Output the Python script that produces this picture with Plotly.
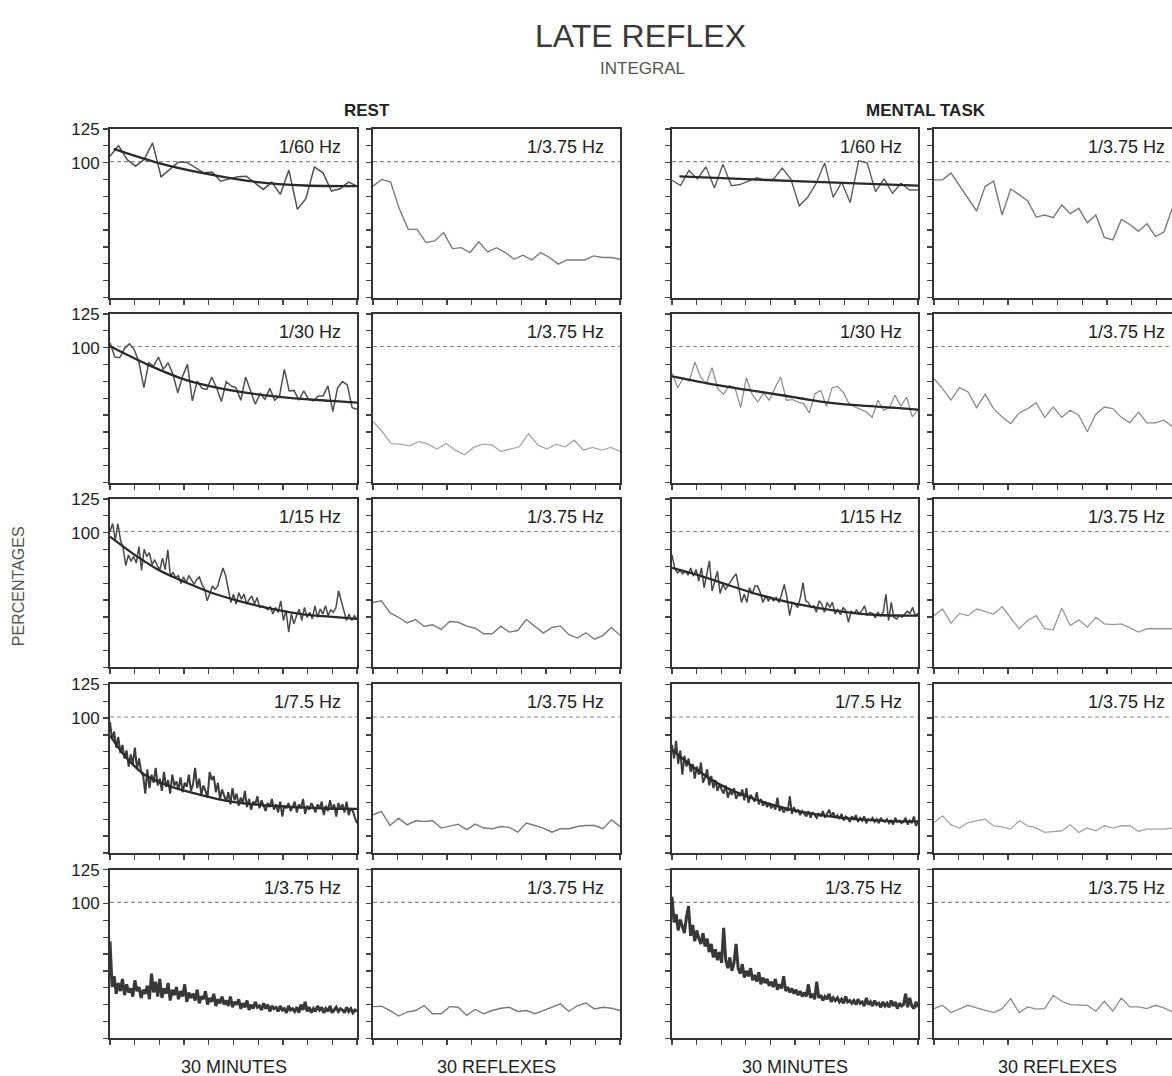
import plotly.graph_objects as go

W, H = 1172, 1076

# ---------------- data (percentages) ----------------
# Row 1 : 1/60 Hz
rest_60 = [104.8, 112.7, 102.3, 97.4, 102.3, 114.7, 89.5, 95, 100.4, 100.4, 96.2, 92.5, 93, 86.3, 88,
           89.5, 90, 85, 80.2, 85.6, 76.5, 94.5, 65.4, 73.3, 96.9, 92.5, 79, 80.7, 85.6, 82.6]
rest_60_fit_t = [0.45, 5.8, 12.1, 17.9, 23.7, 30]
rest_60_fit_v = [110.2, 99.9, 91.3, 85.6, 83.1, 82.6]
rest_60_refl = [82.6, 87.6, 85.6, 65.4, 50.6, 50.6, 40.8, 42, 48.2, 36.3, 37, 33.4, 41.3, 33.9, 37,
                33.4, 28.4, 31.4, 27.9, 33.4, 29.7, 24.8, 27.9, 27.9, 27.9, 30.9, 29.7, 29.7, 28.4]
task_60 = [87, 83, 94.3, 88, 97, 81.3, 98.9, 83, 83.8, 86.3, 88.8, 86.8, 88, 96, 88, 68, 74.3, 84.8,
           99.9, 74.3, 85.6, 70.5, 101.4, 99.9, 78.5, 88, 77.3, 84.8, 79.8, 79.8]
task_60_fit_t = [0.9, 15, 30]
task_60_fit_v = [89.8, 86.4, 83]
task_60_refl = [87.3, 87.3, 92.3, 83, 73, 64.2, 82.3, 86.3, 61.2, 80.5, 76.3, 71.7, 59.7, 61.2, 59.2,
                68.7, 62.2, 66.2, 55.4, 61.2, 44.6, 42.8, 57.9, 54.2, 49.1, 54.7, 45.4, 48.6, 66.7]

# Row 2 : 1/30 Hz
rest_30 = [103.6, 93, 92.5, 99.4, 102.8, 98.6, 88.8, 70.3, 88.8, 86.3, 93, 83.9, 88.8, 80.2, 66.5, 78.9,
           87.6, 60.5, 75.2, 69.8, 69.1, 78.2, 70.3, 60, 74.8, 71.6, 70.3, 61, 78.2, 67.9, 58, 65.9,
           61.7, 69.8, 61, 64.2, 83.9, 67.9, 68.3, 61, 67.9, 61.7, 60.5, 64.2, 64.2, 71.6, 52.6, 70.3,
           74.8, 72.3, 55.5, 54.3]
rest_30_fit_t = [0, 4.5, 9, 13.4, 17.9, 22.4, 26.9, 30]
rest_30_fit_v = [101, 87.6, 76.5, 69.8, 65.4, 62.4, 60.5, 59.2]
rest_30_refl = [45.2, 37.8, 28.9, 28.4, 27.2, 30.4, 28.4, 24.8, 28.9, 24, 20.6, 26, 28.4, 27.9, 23, 24.8,
                26.5, 36.3, 27.9, 24.8, 28.4, 26.5, 31.4, 24, 26, 24, 26, 23]
task_30 = [81.2, 70.3, 77.7, 75.2, 89.3, 78.2, 73.3, 85.1, 69.6, 65.4, 72, 70.3, 55.5, 77.7, 65.4, 59.7,
           66.4, 61, 70.3, 78.2, 61, 61.5, 59.7, 58.5, 51.6, 65.9, 68.3, 56.5, 70.3, 71.3, 66.4, 58,
           56, 54.1, 52.3, 48.2, 61, 53.6, 55.5, 64.7, 56.5, 63.4, 48.6, 54.1]
task_30_fit_t = [0, 4.5, 9, 13.4, 17.9, 22.4, 26.9, 30]
task_30_fit_v = [78.7, 73.3, 68.8, 64.7, 60.2, 57.3, 55.5, 54.1]
task_30_refl = [77, 69.6, 61, 70.3, 67.1, 55.5, 65.4, 54.8, 48.6, 43.7, 51.6, 54.8, 59, 48.3, 56, 48.3,
                53.6, 49.9, 37.6, 50.6, 56, 54.8, 48.3, 44.2, 52.3, 44.2, 44.2, 46.2, 41.3]

# Row 3 : 1/15 Hz
rest_15 = [100.6, 106.7, 94.5, 106.7, 94.5, 88.4, 75.5, 83.5, 78.7, 82.3, 77.4, 89.6, 72, 87.7, 82.3,
           85.2, 76.2, 79.9, 75.5, 72.6, 81.1, 72.6, 87.2, 67.2, 70.6, 66.5, 68.2, 62.3, 67.2, 62.8,
           68.2, 65.2, 61.6, 65.2, 67.2, 61.6, 57.9, 49.4, 55.5, 60.4, 57.9, 60.4, 67.2, 73.8, 68.2,
           59.1, 48.2, 54.3, 47, 55.5, 50.6, 54.3, 47, 50.6, 53, 47, 51.8, 44.5, 45.7, 44.5, 42.8, 45.2,
           39.6, 44.5, 40.9, 49.4, 34.8, 42.1, 26.2, 39.6, 32.3, 38.4, 43.3, 34.8, 44.5, 37.2, 40.9, 36,
           45.7, 37.2, 43.3, 39.6, 45.7, 38.4, 42.8, 40.9, 44.5, 56.7, 48.2, 42.1, 34.8, 39.6, 34.8,
           38.4, 36]
rest_15_fit_t = [0, 3, 6.2, 9.3, 12.5, 15.6, 18.8, 21.9, 25, 28.2, 30]
rest_15_fit_v = [97, 83.5, 71.3, 62.8, 55, 49.4, 44.5, 40.9, 38.4, 37, 36]
rest_15_refl = [48.2, 49.4, 40.4, 37.2, 33, 35.5, 30.6, 31.6, 28.2, 34, 33.5, 30.6, 29.1, 25, 25, 30.6,
                26.2, 27.4, 35.5, 30.6, 25.5, 29.6, 30.8, 24.3, 21.8, 25.7, 20.9, 23.8, 29.6, 23.8]
task_15 = [83.5, 73.8, 70.1, 71.8, 69.4, 71.3, 68.4, 73.8, 67.7, 72.6, 64, 73.8, 59.1, 70.1, 79.1, 56.7,
           64, 71.3, 54.8, 61.6, 57.9, 61.1, 64.5, 67, 69.4, 59.1, 48.2, 54.3, 48.2, 59.1, 54.3, 60.4,
           60.4, 55.5, 48.2, 53, 49.4, 51.8, 49.4, 51.8, 48.2, 54.3, 61.6, 51.8, 38.4, 48.2, 47, 44.5,
           51.8, 62.8, 49.4, 48.2, 44.5, 45.7, 40.9, 49.4, 47, 40.9, 48.2, 44.5, 48.2, 39.6, 43.3, 39.1,
           44.5, 42.1, 33.5, 41.6, 40.1, 42.6, 39.6, 42.1, 45.7, 38.4, 40.9, 40.1, 36.7, 40.9, 38.4,
           40.9, 54.3, 34.8, 48.2, 37.2, 36, 38.4, 37.2, 39.6, 41.6, 40.1, 44.5, 38.4, 40.1]
task_15_fit_t = [0, 3.6, 7.2, 10.7, 14.3, 17.9, 21.5, 25, 30]
task_15_fit_v = [73.8, 67.7, 60.4, 53.8, 48.2, 44, 40.9, 38.9, 38.4]
task_15_refl = [38.4, 43.3, 32.8, 40.1, 38.4, 43.3, 41.6, 39.6, 45, 36.7, 28.7, 34.8, 38.4, 28.7, 27.9,
                44, 31.1, 35.3, 29.9, 37.2, 32.3, 31.8, 32.3, 29.4, 26.2, 28.7, 28.7, 28.7, 28.7]

# Row 4 : 1/7.5 Hz
rest_75 = [97, 84, 90, 78, 86, 74, 80, 70, 76, 64, 73, 66, 78, 62, 70, 60,
           57, 44, 62, 48, 58, 52, 63, 50, 55, 46, 60, 49, 54, 44, 58, 50,
           53, 47, 56, 45, 52, 49, 58, 46, 51, 63, 48, 55, 43, 50, 46, 41,
           60, 54, 57, 45, 52, 40, 47, 42, 38, 45, 36, 48, 39, 44, 35, 41,
           37, 46, 34, 40, 32, 38, 36, 42, 33, 39, 35, 31, 37, 34, 40, 32,
           36, 30, 38, 27, 35, 33, 37, 31, 34, 38, 30, 36, 33, 40, 29, 35,
           32, 37, 34, 30, 36, 33, 38, 28, 35, 31, 39, 32, 36, 27, 37, 33,
           36, 30, 38, 28, 33, 31, 26, 22]
rest_75_fit_t = [0, 1.9, 4.3, 7.5, 11.1, 14.7, 18.3, 21.9, 25.5, 30]
rest_75_fit_v = [87, 71.1, 57.6, 49, 42.9, 38, 35.5, 34.1, 33.1, 32.6]
rest_75_refl = [28.2, 30.6, 20.3, 25.7, 20.8, 23.8, 23.3, 23.8, 18.4, 19.6, 21.3, 17.2, 21.3, 18.4, 17.9,
                19.6, 18.9, 15.4, 22.1, 20.3, 18.4, 15.4, 17.9, 17.9, 19.6, 20.3, 20.3, 17.9, 24.5, 19.6]
task_75 = [80, 70, 83, 66, 76, 58, 72, 64, 70, 60, 66, 55, 64, 58, 67, 52,
           56, 62, 50, 57, 48, 54, 46, 51, 47, 44, 50, 41, 46, 43, 48, 40,
           44, 42, 47, 39, 48, 37, 43, 40, 38, 45, 36, 40, 35, 38, 34, 37,
           33, 36, 32, 41, 31, 34, 30, 33, 31, 42, 29, 34, 30, 32, 28, 31,
           29, 27, 31, 26, 30, 28, 26, 29, 27, 31, 26, 29, 32, 27, 30, 26,
           28, 25, 29, 24, 27, 26, 23, 27, 25, 28, 23, 26, 24, 27, 22, 25,
           24, 26, 23, 25, 22, 26, 24, 23, 25, 22, 24, 21, 26, 23, 24, 22,
           23, 26, 21, 24, 22, 27, 20, 23]
task_75_fit_t = [0, 2.7, 5.8, 9, 12.1, 15.2, 18.8, 22.4, 26, 30]
task_75_fit_v = [76.6, 63.1, 50.8, 42.2, 36, 31.1, 27.5, 25, 23.8, 23.3]
task_75_refl = [22.5, 27.5, 20.8, 18.4, 22.5, 23.8, 25, 20.1, 19.3, 17.6, 23.8, 20.1, 18.4, 15.2, 15.9,
                16.4, 20.8, 15.2, 18.4, 16.4, 20.1, 18.4, 20.1, 20.1, 15.9, 17.6, 17.6, 17.6, 18.4]

# Row 5 : 1/3.75 Hz
rest_375 = [72, 38, 46, 33, 41, 35, 44, 32, 40, 34, 37, 31, 43, 35, 38, 30,
            36, 33, 39, 29, 48, 34, 42, 31, 44, 30, 37, 33, 41, 28, 36, 32,
            38, 29, 35, 31, 40, 27, 34, 30, 33, 28, 36, 26, 31, 29, 35, 25,
            30, 27, 33, 24, 29, 26, 31, 25, 28, 24, 31, 23, 27, 25, 29, 22,
            26, 23, 28, 21, 25, 22, 27, 23, 24, 21, 26, 22, 25, 20, 24, 22,
            23, 20, 24, 21, 22, 19, 24, 21, 22, 20, 23, 19, 25, 21, 27, 20,
            23, 19, 22, 20, 24, 21, 23, 19, 22, 20, 24, 19, 21, 23, 20, 22,
            21, 19, 23, 20, 22, 19, 21, 20]
rest_375_refl = [23.5, 23.8, 20.6, 16.5, 19.4, 20.6, 24.3, 18.2, 18.2, 23.5, 23, 17, 21.4, 18.2, 20.6,
                 22.3, 23, 19.9, 20.6, 18.2, 20.6, 23, 25.5, 19.9, 24.3, 26.2, 21.8, 23, 22.3, 20.6]
task_375 = [105, 86, 92, 80, 88, 82, 78, 90, 98, 76, 84, 72, 80, 74, 70, 78,
            68, 74, 64, 70, 60, 66, 58, 64, 56, 82, 58, 52, 60, 50, 56, 70,
            52, 48, 55, 45, 50, 46, 52, 43, 47, 42, 49, 40, 45, 41, 44, 39,
            42, 38, 44, 36, 40, 37, 46, 35, 38, 34, 37, 33, 36, 32, 35, 31,
            34, 31, 40, 30, 33, 29, 42, 30, 32, 28, 31, 29, 33, 27, 30, 28,
            30, 27, 29, 26, 31, 27, 28, 26, 28, 25, 29, 26, 27, 24, 30, 25,
            27, 24, 28, 25, 26, 23, 27, 24, 26, 23, 28, 24, 27, 22, 26, 24,
            25, 33, 23, 30, 24, 22, 27, 23]
task_375_refl = [22, 24.5, 19.1, 22, 24.5, 22.5, 20.8, 19.1, 22, 29.4, 19.1, 23.3, 21.6, 22, 31.9,
                 27.5, 25, 24.5, 24.5, 20.1, 27.5, 20.1, 29.9, 23.3, 23.3, 22, 24.5, 22.5, 19.6]

row_labels = ["1/60 Hz", "1/30 Hz", "1/15 Hz", "1/7.5 Hz", "1/3.75 Hz"]
refl_label = "1/3.75 Hz"
y_tickvals = [0, 12.5, 25, 37.5, 50, 62.5, 75, 87.5, 100, 112.5, 125]
y_ticktext = ["", "", "", "", "", "", "", "", "100", "", "125"]

# ---------------- layout geometry (pixels) ----------------
col_px = [(110, 357), (373, 620), (672, 918), (934, 1181)]
row_top = [121, 307.5, 494, 681, 868]
row_h = 170

INK = "#222222"
FONT = "Liberation Sans, Arial, sans-serif"

panels = [
    # row, col, kind, values, fit_t, fit_v, line colour, line width
    (0, 0, "t", rest_60, rest_60_fit_t, rest_60_fit_v, "#505050", 1.5),
    (0, 1, "r", rest_60_refl, None, None, "#7a7a7a", 1.4),
    (0, 2, "t", task_60, task_60_fit_t, task_60_fit_v, "#5e5e5e", 1.4),
    (0, 3, "r", task_60_refl, None, None, "#7a7a7a", 1.4),
    (1, 0, "t", rest_30, rest_30_fit_t, rest_30_fit_v, "#505050", 1.5),
    (1, 1, "r", rest_30_refl, None, None, "#a8a8a8", 1.3),
    (1, 2, "t", task_30, task_30_fit_t, task_30_fit_v, "#8a8a8a", 1.2),
    (1, 3, "r", task_30_refl, None, None, "#8c8c8c", 1.3),
    (2, 0, "t", rest_15, rest_15_fit_t, rest_15_fit_v, "#4a4a4a", 1.5),
    (2, 1, "r", rest_15_refl, None, None, "#7a7a7a", 1.4),
    (2, 2, "t", task_15, task_15_fit_t, task_15_fit_v, "#4a4a4a", 1.5),
    (2, 3, "r", task_15_refl, None, None, "#999999", 1.3),
    (3, 0, "t", rest_75, rest_75_fit_t, rest_75_fit_v, "#3c3c3c", 2.0),
    (3, 1, "r", rest_75_refl, None, None, "#7a7a7a", 1.4),
    (3, 2, "t", task_75, task_75_fit_t, task_75_fit_v, "#3c3c3c", 2.0),
    (3, 3, "r", task_75_refl, None, None, "#a5a5a5", 1.3),
    (4, 0, "t", rest_375, None, None, "#383838", 3.0),
    (4, 1, "r", rest_375_refl, None, None, "#7a7a7a", 1.4),
    (4, 2, "t", task_375, None, None, "#383838", 3.0),
    (4, 3, "r", task_375_refl, None, None, "#8c8c8c", 1.3),
]

fig = go.Figure()
layout = dict(
    width=W, height=H, margin=dict(l=0, r=0, t=0, b=0),
    paper_bgcolor="white", plot_bgcolor="white", showlegend=False,
    font=dict(family=FONT, color=INK),
)
shapes, annotations = [], []

for i, (r, c, kind, vals, ft, fv, colr, lw) in enumerate(panels):
    n = i + 1
    xa = "x" if n == 1 else f"x{n}"
    ya = "y" if n == 1 else f"y{n}"
    x0p, x1p = col_px[c]
    vis_right = min(x1p, W)
    xdom = [x0p / W, vis_right / W]
    ydom = [1 - (row_top[r] + row_h) / H, 1 - row_top[r] / H]
    npts = len(vals)
    frac_vis = (vis_right - x0p) / (x1p - x0p)
    if kind == "t":
        xs = [k * 30.0 / (npts - 1) for k in range(npts)]
        xrange = [0, 30 * frac_vis]
        tick0, dtick = 0, 3
    else:
        nfull = 30
        xs = list(range(1, npts + 1))
        span = (npts - 1) if c == 1 else (nfull - 1)
        xrange = [1, 1 + span * frac_vis]
        tick0, dtick = 1, span / 10.0
    fig.add_trace(go.Scatter(x=xs, y=vals, mode="lines", xaxis=xa, yaxis=ya,
                             line=dict(color=colr, width=lw), hoverinfo="skip"))
    if ft is not None:
        fig.add_trace(go.Scatter(x=ft, y=fv, mode="lines", xaxis=xa, yaxis=ya,
                                 line=dict(color="#2a2a2a", width=2.3, shape="spline", smoothing=0.8),
                                 hoverinfo="skip"))
    key = "" if n == 1 else str(n)
    layout["xaxis" + key] = dict(
        domain=xdom, range=xrange, anchor=ya, showline=True, mirror=True,
        linecolor="#333333", linewidth=2, ticks="outside", ticklen=5, tickwidth=1.3,
        tickcolor="#444444", tick0=tick0, dtick=dtick, showticklabels=False,
        showgrid=False, zeroline=False, fixedrange=True,
    )
    layout["yaxis" + key] = dict(
        domain=ydom, range=[0, 125], anchor=xa, showline=True, mirror=(c != 3),
        linecolor="#333333", linewidth=2, ticks="outside", ticklen=5, tickwidth=1.3,
        tickcolor="#444444", tickmode="array", tickvals=y_tickvals, ticktext=y_ticktext,
        showticklabels=(c == 0), tickfont=dict(size=17, color=INK, family=FONT),
        showgrid=False, zeroline=False, fixedrange=True,
    )
    shapes.append(dict(type="line", xref=f"{xa} domain", yref=ya, x0=0, x1=1, y0=100.8, y1=100.8,
                       line=dict(color="#8a8a8a", width=1.1, dash="4px,3px"), layer="below"))
    label = row_labels[r] if kind == "t" else refl_label
    right_px = min(x1p - 14, W - 3)
    annotations.append(dict(
        text=label, xref=f"{xa} domain", yref=f"{ya} domain",
        x=(right_px - x0p) / (vis_right - x0p), y=1 - 18 / row_h,
        xanchor="right", yanchor="middle", showarrow=False,
        font=dict(size=18, color=INK, family=FONT),
    ))

# titles and axis captions
def paper_txt(text, xpx, ypx, size, angle=0, color=INK):
    annotations.append(dict(text=text, xref="paper", yref="paper", x=xpx / W, y=1 - ypx / H,
                            xanchor="center", yanchor="middle", showarrow=False, textangle=angle,
                            font=dict(size=size, color=color, family=FONT)))

paper_txt("LATE REFLEX", 640, 27, 32, color="#3a3a3a")
paper_txt("INTEGRAL", 642, 60, 17, color="#555555")
paper_txt("<b>REST</b>", 367, 102, 17)
paper_txt("<b>MENTAL TASK</b>", 926, 102, 17)
paper_txt("PERCENTAGES", 18, 582, 16, angle=-90, color="#555555")
bottom_caps = ["30 MINUTES", "30 REFLEXES", "30 MINUTES", "30 REFLEXES"]
for c, cap in enumerate(bottom_caps):
    x0p, x1p = col_px[c]
    paper_txt(cap, (x0p + x1p) / 2, 1067, 18)

layout["shapes"] = shapes
layout["annotations"] = annotations
fig.update_layout(**layout)
fig.write_html(
    "out.html",
    config={"displayModeBar": False, "staticPlot": True},
    post_script="document.body.style.margin='0';document.body.style.padding='0';"
                "document.body.style.overflow='hidden';document.documentElement.style.overflow='hidden';",
)
